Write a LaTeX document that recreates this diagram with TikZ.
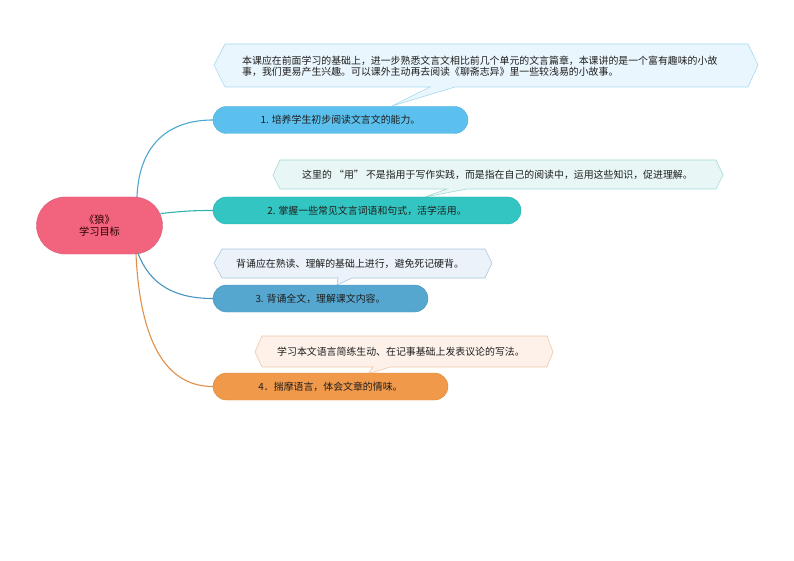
\documentclass[tikz,border=0pt]{standalone}
\usepackage{fontspec}
\newfontfamily\cjk{Noto Sans CJK SC}
\usetikzlibrary{shapes.misc,calc}
\definecolor{rootfill}{HTML}{F2647E}
\definecolor{bonefill}{HTML}{5BC0EE}
\definecolor{btwofill}{HTML}{33C5C1}
\definecolor{bthreefill}{HTML}{56A7D0}
\definecolor{bfourfill}{HTML}{F0994A}
\definecolor{lone}{HTML}{4AA8D0}
\definecolor{ltwo}{HTML}{2FB3B0}
\definecolor{lthree}{HTML}{4A92C0}
\definecolor{lfour}{HTML}{E0904A}
\definecolor{conefill}{HTML}{EAF6FD}
\definecolor{conedraw}{HTML}{A6D9EF}
\definecolor{ctwofill}{HTML}{E8F6F5}
\definecolor{ctwodraw}{HTML}{A2D9D6}
\definecolor{cthreefill}{HTML}{EBF2F9}
\definecolor{cthreedraw}{HTML}{A9C7DE}
\definecolor{cfourfill}{HTML}{FDF1EA}
\definecolor{cfourdraw}{HTML}{F2C6A6}
\definecolor{txt}{HTML}{1E1E1E}
\begin{document}
\begin{tikzpicture}[x=1pt,y=-1pt,
  every node/.style={font=\cjk\fontsize{9.9}{11}\selectfont, text=txt},
  rootbox/.style={rounded rectangle, fill=rootfill, draw=rootfill!90!black, line width=0.4pt, minimum width=126, minimum height=57, align=center, inner sep=0pt, text=black!85!red, font=\cjk\fontsize{10.2}{11.5}\selectfont},
  branchbox/.style={rounded rectangle, line width=0.4pt, minimum height=27, inner sep=0pt},
  calltext/.style={anchor=west, inner sep=0pt, align=left},
  callshape/.style={line width=0.6pt},
  conn/.style={line width=1.1pt}
]
\useasboundingbox (0,0) rectangle (794,561);

% callout shapes
\draw[callshape, fill=conefill, draw=conedraw] (214,65) -- (225,44) -- (748,44) -- (758,65) -- (748,87) -- (455,87) -- (392,106) -- (430,87) -- (225,87) -- cycle;
\draw[callshape, fill=ctwofill, draw=ctwodraw] (273,175) -- (280,160) -- (716,160) -- (723,175) -- (716,189) -- (467,189) -- (425,197) -- (447,189) -- (280,189) -- cycle;
\draw[callshape, fill=cthreefill, draw=cthreedraw] (214,263) -- (222,249) -- (485,249) -- (492,263) -- (485,278) -- (352,278) -- (337,285) -- (338,278) -- (222,278) -- cycle;
\draw[callshape, fill=cfourfill, draw=cfourdraw] (255,352) -- (262,336) -- (547,336) -- (553,352) -- (547,367) -- (390,367) -- (368,374) -- (373,367) -- (262,367) -- cycle;

% callout texts
\node[calltext] (c1) at (242,66) {本课应在前面学习的基础上，进一步熟悉文言文相比前几个单元的文言篇章，本课讲的是一个富有趣味的小故\\事，我们更易产生兴趣。可以课外主动再去阅读《聊斋志异》里一些较浅易的小故事。};
\node[calltext] (c2) at (302,175) {这里的 “用” 不是指用于写作实践，而是指在自己的阅读中，运用这些知识，促进理解。};
\node[calltext] (c3) at (236,264) {背诵应在熟读、理解的基础上进行，避免死记硬背。};
\node[calltext] (c4) at (277,352) {学习本文语言简练生动、在记事基础上发表议论的写法。};

% root
\node[rootbox] (root) at (99.5,225.5) {《狼》\\学习目标};

% branches
\node[branchbox, fill=bonefill, draw=bonefill!90!black, minimum width=255] (b1) at (340.5,120) {1. 培养学生初步阅读文言文的能力。};
\node[branchbox, fill=btwofill, draw=btwofill!90!black, minimum width=308] (b2) at (367,210.5) {2. 掌握一些常见文言词语和句式，活学活用。};
\node[branchbox, fill=bthreefill, draw=bthreefill!90!black, minimum width=215] (b3) at (320.5,298.5) {3. 背诵全文，理解课文内容。};
\node[branchbox, fill=bfourfill, draw=bfourfill!90!black, minimum width=235] (b4) at (330.5,386.5) {4．揣摩语言，体会文章的情味。};

% connectors
\draw[conn, lone] ($(root.north)+(37.5,0)$) .. controls (139,145) and (168,120) .. (b1.west);
\draw[conn, ltwo] ($(root.east)+(-2,-12)$) .. controls (185,211) and (192,210.5) .. (b2.west);
\draw[conn, lthree] ($(root.south)+(38.5,-1)$) .. controls (150,285) and (175,298.5) .. (b3.west);
\draw[conn, lfour] ($(root.south)+(36.5,0)$) .. controls (140,340) and (165,386.5) .. (b4.west);
\end{tikzpicture}
\end{document}
